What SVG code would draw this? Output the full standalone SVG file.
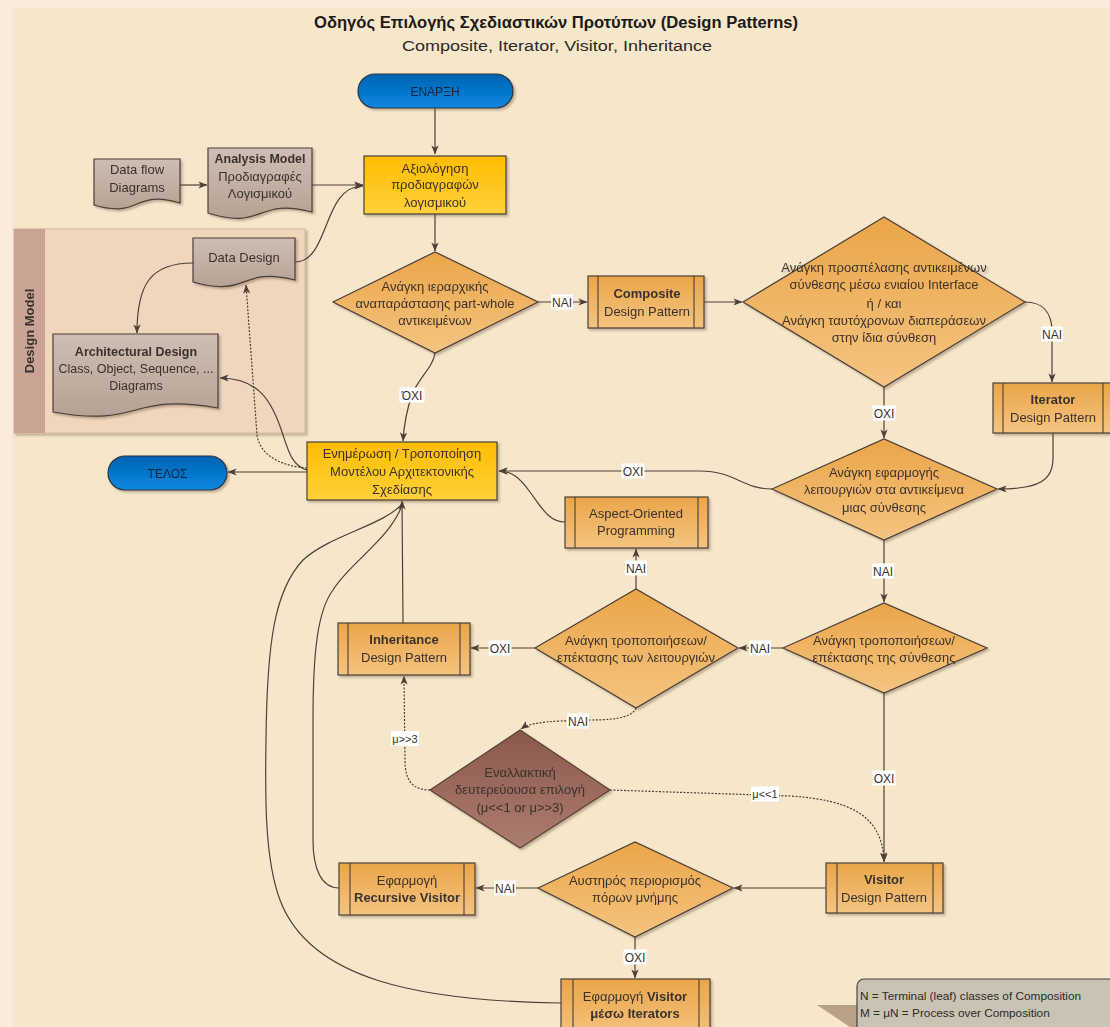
<svg xmlns="http://www.w3.org/2000/svg" width="1110" height="1027" viewBox="0 0 1110 1027">
  <defs>
    <linearGradient id="gOrange" x1="0" y1="0" x2="0" y2="1">
      <stop offset="0" stop-color="#EBA548"/>
      <stop offset="1" stop-color="#F4C481"/>
    </linearGradient>
    <linearGradient id="gYellow" x1="0" y1="0" x2="0" y2="1">
      <stop offset="0" stop-color="#FFBD00"/>
      <stop offset="1" stop-color="#FFD03A"/>
    </linearGradient>
    <linearGradient id="gBrown" x1="0" y1="0" x2="0" y2="1">
      <stop offset="0" stop-color="#8A584C"/>
      <stop offset="1" stop-color="#AC7D71"/>
    </linearGradient>
    <linearGradient id="gDoc" x1="0" y1="0" x2="0" y2="1">
      <stop offset="0" stop-color="#CEBEB3"/>
      <stop offset="1" stop-color="#B6A294"/>
    </linearGradient>
    <linearGradient id="gBlue" x1="0" y1="0" x2="0" y2="1">
      <stop offset="0" stop-color="#0063B1"/>
      <stop offset="1" stop-color="#0A88E2"/>
    </linearGradient>
    <filter id="shadow" x="-10%" y="-10%" width="130%" height="140%">
      <feDropShadow dx="2" dy="2" stdDeviation="1.2" flood-color="#5A4030" flood-opacity="0.35"/>
    </filter>
    <marker id="arrow" viewBox="0 0 10 8" refX="9.5" refY="4" markerWidth="9" markerHeight="7.5" orient="auto" markerUnits="userSpaceOnUse">
      <path d="M0,0 L10,4 L0,8 L2.5,4 z" fill="#4E4038"/>
    </marker>
  </defs>
  <style>
    .t{font-family:"Liberation Sans",Arial,sans-serif;font-size:13px;fill:#3A322D;text-anchor:middle}
    .s{font-size:12.5px}
    .b{font-weight:bold}
    .conn{fill:none;stroke:#4E4038;stroke-width:1.2}
    .dot{stroke-dasharray:2 1.5}
    .lblbg{fill:#FFFFFF}
    .lbl{font-family:"Liberation Sans",Arial,sans-serif;font-size:12px;fill:#3A322D;text-anchor:middle}
    .mu{font-size:11px}
    .shape{stroke:#4A3F38;stroke-width:1.2}
    .orange{fill:url(#gOrange)}
    .yellow{fill:url(#gYellow)}
    .doc{fill:url(#gDoc)}
    .term{fill:url(#gBlue);stroke:#2E3440;stroke-width:1.2}
    .termtxt{font-family:"Liberation Sans",Arial,sans-serif;font-size:12px;fill:#16243F;text-anchor:middle}
    .inner{stroke:#4A3F38;stroke-width:1.1}
  </style>

  <!-- page background -->
  <rect x="0" y="0" width="1110" height="1027" fill="#FBEBDD"/>
  <rect x="12" y="8" width="1098" height="1019" fill="#F6E7CA"/>

  <!-- headings -->
  <text x="556" y="28" font-family="Liberation Sans, Arial, sans-serif" font-size="16" font-weight="bold" fill="#1E1A18" text-anchor="middle" textLength="484" lengthAdjust="spacingAndGlyphs">Οδηγός Επιλογής Σχεδιαστικών Προτύπων (Design Patterns)</text>
  <text x="557" y="51" font-family="Liberation Sans, Arial, sans-serif" font-size="15.5" fill="#2D2926" text-anchor="middle" textLength="310" lengthAdjust="spacingAndGlyphs">Composite, Iterator, Visitor, Inheritance</text>

  <!-- design model container -->
  <g id="design-model" filter="url(#shadow)">
    <rect x="14" y="229" width="291" height="204" fill="#F0D6BD" stroke="#D9BBA2" stroke-width="1.2"/>
    <rect x="14" y="229" width="31" height="204" fill="#C9A393"/>
    <text class="t b" transform="translate(34,331) rotate(-90)">Design Model</text>
  </g>

  <!-- connectors -->
  <g id="connectors" class="conn">
    <path d="M435,108 V154" marker-end="url(#arrow)"/>
    <path d="M180,185 H207" marker-end="url(#arrow)"/>
    <path d="M312,185 H363" marker-end="url(#arrow)"/>
    <path d="M295,262 C330,262 322,186 363,186" marker-end="url(#arrow)"/>
    <path d="M193,263 C150,263 137,285 137,333" marker-end="url(#arrow)"/>
    <path d="M435,214 V251" marker-end="url(#arrow)"/>
    <path d="M538,302 H587" marker-end="url(#arrow)"/>
    <path d="M704,302 H742" marker-end="url(#arrow)"/>
    <path d="M1025,302 C1042,302 1052,312 1052,332 V382" marker-end="url(#arrow)"/>
    <path d="M884,387 V438" marker-end="url(#arrow)"/>
    <path d="M1053,433 V458 C1053,480 1040,489 998,489" marker-end="url(#arrow)"/>
    <path d="M772,489 C742,489 735,471 700,471 H499" marker-end="url(#arrow)"/>
    <path d="M565,522 C548,522 540,505 530,492 C520,478 512,471 499,471" marker-end="url(#arrow)"/>
    <path d="M435,353 C433,368 418,378 412,395 C406,412 404,425 403,441" marker-end="url(#arrow)"/>
    <path d="M307,472 H228" marker-end="url(#arrow)"/>
    <path d="M307,470 C292,466 288,450 283,435 C272,400 258,378 220,378" marker-end="url(#arrow)"/>
    <path class="dot" d="M307,468 C280,466 260,455 257,435 L246,285" marker-end="url(#arrow)"/>
    <path d="M884,540 V602" marker-end="url(#arrow)"/>
    <path d="M783,648 H739" marker-end="url(#arrow)"/>
    <path d="M636,589 V549" marker-end="url(#arrow)"/>
    <path d="M535,648 H471" marker-end="url(#arrow)"/>
    <path d="M403,623 L402,501" marker-end="url(#arrow)"/>
    <path class="dot" d="M636,708 C633,716 620,720 590,720 L560,721 C540,722 528,724 521,729" marker-end="url(#arrow)"/>
    <path class="dot" d="M430,790 C412,790 405,780 405,760 L404,676" marker-end="url(#arrow)"/>
    <path class="dot" d="M610,790 L790,796 C850,800 882,815 884,861" marker-end="url(#arrow)"/>
    <path d="M884,693 V862" marker-end="url(#arrow)"/>
    <path d="M826,888 H734" marker-end="url(#arrow)"/>
    <path d="M538,888 H476" marker-end="url(#arrow)"/>
    <path d="M635,937 V978" marker-end="url(#arrow)"/>
    <path d="M339,888 C322,888 313,870 313,840 L313,720 C313,650 318,610 333,590 C350,562 390,540 403,503"/>
    <path d="M561,1003 C420,1001 310,980 280,900 C265,860 265,800 266,740 C267,640 275,590 303,560 C330,535 385,525 403,503"/>

    <!-- branch labels -->
    <g stroke="none">
      <rect class="lblbg" x="551" y="294.5" width="22" height="15"/><text class="lbl" x="562" y="306.5">ΝΑΙ</text>
      <rect class="lblbg" x="1041" y="326.5" width="22" height="15"/><text class="lbl" x="1052" y="338.5">ΝΑΙ</text>
      <rect class="lblbg" x="872.5" y="405.5" width="23" height="15"/><text class="lbl" x="884" y="417.5">ΟΧΙ</text>
      <rect class="lblbg" x="399.5" y="387.5" width="25" height="15"/><text class="lbl" x="412" y="399.5">ΌΧΙ</text>
      <rect class="lblbg" x="621.5" y="463.5" width="23" height="15"/><text class="lbl" x="633" y="475.5">ΟΧΙ</text>
      <rect class="lblbg" x="872" y="563.5" width="22" height="15"/><text class="lbl" x="883" y="575.5">ΝΑΙ</text>
      <rect class="lblbg" x="625" y="560.5" width="22" height="15"/><text class="lbl" x="636" y="572.5">ΝΑΙ</text>
      <rect class="lblbg" x="749" y="640.5" width="22" height="15"/><text class="lbl" x="760" y="652.5">ΝΑΙ</text>
      <rect class="lblbg" x="488.5" y="640.5" width="23" height="15"/><text class="lbl" x="500" y="652.5">ΟΧΙ</text>
      <rect class="lblbg" x="567" y="713.5" width="22" height="15"/><text class="lbl" x="578" y="725.5">ΝΑΙ</text>
      <rect class="lblbg" x="391" y="731" width="28" height="15"/><text class="lbl mu" x="405" y="742.5">μ&gt;&gt;3</text>
      <rect class="lblbg" x="751" y="786.5" width="28" height="15"/><text class="lbl mu" x="765" y="798">μ&lt;&lt;1</text>
      <rect class="lblbg" x="872.5" y="770.5" width="23" height="15"/><text class="lbl" x="884" y="782.5">ΟΧΙ</text>
      <rect class="lblbg" x="494" y="880.5" width="22" height="15"/><text class="lbl" x="505" y="892.5">ΝΑΙ</text>
      <rect class="lblbg" x="623.5" y="949.5" width="23" height="15"/><text class="lbl" x="635" y="961.5">ΟΧΙ</text>
    </g>
  </g>

  <!-- nodes -->
  <g id="start" filter="url(#shadow)">
    <rect class="term" x="358" y="74" width="155" height="34" rx="17"/>
    <text class="termtxt" x="435" y="95.5">ΕΝΑΡΞΗ</text>
  </g>

  <g id="data-flow" filter="url(#shadow)">
    <path class="doc shape" d="M94,159 H180 V203 C133,189 141,219 94,205 Z"/>
    <text class="t" x="137" y="173.5">Data flow</text>
    <text class="t" x="137" y="191.5">Diagrams</text>
  </g>

  <g id="analysis-model" filter="url(#shadow)">
    <path class="doc shape" d="M208,148 H312 V212 C255,197 265,231 208,213 Z"/>
    <text class="t b s" x="260" y="162.5">Analysis Model</text>
    <text class="t" x="260" y="180.5">Προδιαγραφές</text>
    <text class="t" x="260" y="197.5">Λογισμικού</text>
  </g>

  <g id="evaluate-specs" filter="url(#shadow)">
    <rect class="yellow shape" x="364" y="156" width="142" height="58"/>
    <text class="t" x="435" y="172.5">Αξιολόγηση</text>
    <text class="t" x="435" y="188.5">προδιαγραφών</text>
    <text class="t" x="435" y="206.5">λογισμικού</text>
  </g>

  <g id="data-design" filter="url(#shadow)">
    <path class="doc shape" d="M193,238 H295 V280 C239,266 249,298 193,282 Z"/>
    <text class="t" x="244" y="261.5">Data Design</text>
  </g>

  <g id="architectural-design" filter="url(#shadow)">
    <path class="doc shape" d="M53,334 H218 V408 C127,392 144,428 53,412 Z"/>
    <text class="t b s" x="136" y="355.5">Architectural Design</text>
    <text class="t s" x="136" y="372.5">Class, Object, Sequence, ...</text>
    <text class="t s" x="136" y="389.5">Diagrams</text>
  </g>

  <g id="hierarchy-decision" filter="url(#shadow)">
    <polygon class="orange shape" points="333,302 435,252 538,302 435,353"/>
    <text class="t" x="435" y="290.5">Ανάγκη ιεραρχικής</text>
    <text class="t" x="435" y="307.5">αναπαράστασης part-whole</text>
    <text class="t" x="435" y="324.5">αντικειμένων</text>
  </g>

  <g id="composite" filter="url(#shadow)">
    <rect class="orange shape" x="588" y="276" width="116" height="52"/>
    <line class="inner" x1="598" y1="276" x2="598" y2="328"/>
    <line class="inner" x1="694" y1="276" x2="694" y2="328"/>
    <text class="t b" x="647" y="297.5">Composite</text>
    <text class="t" x="647" y="315.5">Design Pattern</text>
  </g>

  <g id="access-decision" filter="url(#shadow)">
    <polygon class="orange shape" points="743,302 884,217 1025,302 884,387"/>
    <text class="t" x="884" y="271.5">Ανάγκη προσπέλασης αντικειμένων</text>
    <text class="t" x="884" y="288.5">σύνθεσης μέσω ενιαίου Interface</text>
    <text class="t" x="884" y="307.5">ή / και</text>
    <text class="t" x="884" y="324.5">Ανάγκη ταυτόχρονων διαπεράσεων</text>
    <text class="t" x="884" y="341.5">στην ίδια σύνθεση</text>
  </g>

  <g id="iterator" filter="url(#shadow)">
    <rect class="orange shape" x="993" y="383" width="120" height="50"/>
    <line class="inner" x1="1003" y1="383" x2="1003" y2="433"/>
    <line class="inner" x1="1103" y1="383" x2="1103" y2="433"/>
    <text class="t b" x="1053" y="403.5">Iterator</text>
    <text class="t" x="1053" y="421.5">Design Pattern</text>
  </g>

  <g id="operations-decision" filter="url(#shadow)">
    <polygon class="orange shape" points="772,489 884,439 997,489 884,540"/>
    <text class="t" x="884" y="476.5">Ανάγκη εφαρμογής</text>
    <text class="t" x="884" y="493.5">λειτουργιών στα αντικείμενα</text>
    <text class="t" x="884" y="511.5">μιας σύνθεσης</text>
  </g>

  <g id="update-model" filter="url(#shadow)">
    <rect class="yellow shape" x="307" y="442" width="190" height="58"/>
    <text class="t" x="402" y="458">Ενημέρωση / Τροποποίηση</text>
    <text class="t" x="402" y="476">Μοντέλου Αρχιτεκτονικής</text>
    <text class="t" x="402" y="493.5">Σχεδίασης</text>
  </g>

  <g id="end" filter="url(#shadow)">
    <rect class="term" x="108" y="456" width="119" height="34" rx="17"/>
    <text class="termtxt" x="167.5" y="477.5">ΤΕΛΟΣ</text>
  </g>

  <g id="aspect-oriented" filter="url(#shadow)">
    <rect class="orange shape" x="565" y="497" width="143" height="51"/>
    <line class="inner" x1="575" y1="497" x2="575" y2="548"/>
    <line class="inner" x1="698" y1="497" x2="698" y2="548"/>
    <text class="t" x="636" y="517.5">Aspect-Oriented</text>
    <text class="t" x="636" y="534.5">Programming</text>
  </g>

  <g id="composition-change-decision" filter="url(#shadow)">
    <polygon class="orange shape" points="783,648 884,603 987,648 884,693"/>
    <text class="t" x="884" y="644.5">Ανάγκη τροποποιήσεων/</text>
    <text class="t" x="884" y="661.5">επέκτασης της σύνθεσης</text>
  </g>

  <g id="operations-change-decision" filter="url(#shadow)">
    <polygon class="orange shape" points="535,648 636,589 738,648 636,708"/>
    <text class="t" x="636" y="644.5">Ανάγκη τροποποιήσεων/</text>
    <text class="t" x="636" y="661.5">επέκτασης των λειτουργιών</text>
  </g>

  <g id="inheritance" filter="url(#shadow)">
    <rect class="orange shape" x="338" y="623" width="132" height="52"/>
    <line class="inner" x1="348" y1="623" x2="348" y2="675"/>
    <line class="inner" x1="460" y1="623" x2="460" y2="675"/>
    <text class="t b" x="404" y="643.5">Inheritance</text>
    <text class="t" x="404" y="661.5">Design Pattern</text>
  </g>

  <g id="alternative-choice" filter="url(#shadow)">
    <polygon points="430,790 520,730 610,790 520,848" fill="url(#gBrown)" stroke="#5A4038" stroke-width="1.2"/>
    <text class="t" x="520" y="776.5">Εναλλακτική</text>
    <text class="t" x="520" y="793.5">δευτερεύουσα επιλογή</text>
    <text class="t" x="520" y="811.5">(μ&lt;&lt;1 or μ&gt;&gt;3)</text>
  </g>

  <g id="visitor" filter="url(#shadow)">
    <rect class="orange shape" x="826" y="863" width="117" height="50"/>
    <line class="inner" x1="837" y1="863" x2="837" y2="913"/>
    <line class="inner" x1="933" y1="863" x2="933" y2="913"/>
    <text class="t b" x="884" y="883.5">Visitor</text>
    <text class="t" x="884" y="901.5">Design Pattern</text>
  </g>

  <g id="memory-decision" filter="url(#shadow)">
    <polygon class="orange shape" points="538,888 635,842 733,888 635,937"/>
    <text class="t" x="635" y="884.5">Αυστηρός περιορισμός</text>
    <text class="t" x="635" y="901.5">πόρων μνήμης</text>
  </g>

  <g id="recursive-visitor" filter="url(#shadow)">
    <rect class="orange shape" x="339" y="863" width="136" height="52"/>
    <line class="inner" x1="350" y1="863" x2="350" y2="915"/>
    <line class="inner" x1="464" y1="863" x2="464" y2="915"/>
    <text class="t" x="407" y="884.5">Εφαρμογή</text>
    <text class="t b" x="407" y="901.5">Recursive Visitor</text>
  </g>

  <g id="visitor-iterators" filter="url(#shadow)">
    <rect class="orange shape" x="561" y="979" width="149" height="60"/>
    <line class="inner" x1="573" y1="979" x2="573" y2="1039"/>
    <line class="inner" x1="699" y1="979" x2="699" y2="1039"/>
    <text class="t" x="635" y="1000.5">Εφαρμογή <tspan font-weight="bold">Visitor</tspan></text>
    <text class="t b" x="635" y="1017.5">μέσω Iterators</text>
  </g>

  <!-- legend callout -->
  <g id="legend">
    <polygon points="817,1005 858,1005 858,1027 850,1027" fill="#B9A088"/>
    <rect x="857" y="979" width="270" height="60" rx="7" fill="#C9C3B4" stroke="#4A4440" stroke-width="1.2"/>
    <text x="860" y="1000" font-family="Liberation Sans, Arial, sans-serif" font-size="11.8" fill="#2E2A28">N = Terminal (leaf) classes of Composition</text>
    <text x="860" y="1017" font-family="Liberation Sans, Arial, sans-serif" font-size="11.8" fill="#2E2A28">M = μN = Process over Composition</text>
  </g>
</svg>
